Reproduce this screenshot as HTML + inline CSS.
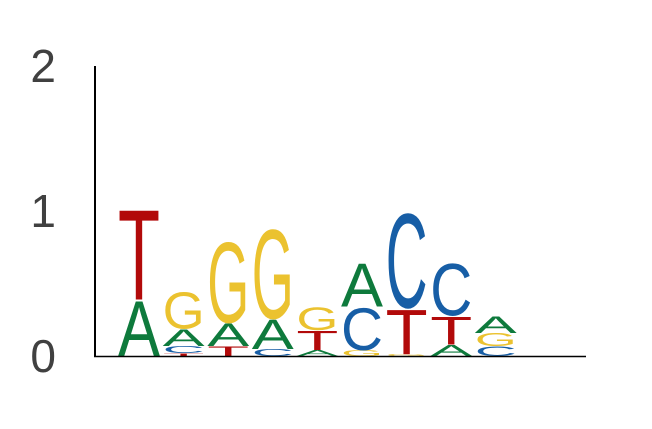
<!DOCTYPE html>
<html><head><meta charset="utf-8"><style>
html,body{margin:0;padding:0;background:#fff;}
svg{display:block;}
text{font-family:"Liberation Sans",sans-serif;}
</style></head><body>
<svg id="chart" width="652" height="429" viewBox="0 0 652 429">
<g id="marks"></g>
<line x1="95" y1="66" x2="95" y2="357" stroke="#000" stroke-width="2"/>
<line x1="94" y1="356.5" x2="586" y2="356.5" stroke="#000" stroke-width="1.5"/>
<g id="ticks"></g>
</svg>
<script>
// bottom-to-top letter stacks per position, heights in bits
const positions = [1,2,3,4,5,6,7,8,9];
const letters = [
  ["A","T"],
  ["T","C","A","G"],
  ["T","A","G"],
  ["C","A","G"],
  ["A","T","G"],
  ["G","C","A"],
  ["G","T","C"],
  ["A","T","C"],
  ["C","G","A"]
];
const heights = [
  [0.39,0.64],
  [0.02,0.05,0.12,0.26],
  [0.07,0.16,0.57],
  [0.05,0.21,0.63],
  [0.04,0.14,0.16],
  [0.04,0.30,0.31],
  [0.015,0.32,0.67],
  [0.08,0.20,0.37],
  [0.07,0.09,0.12]
];
const yTicks = [0,1,2];
const colors = {A:"#0e7a3c",C:"#175ea6",G:"#ebc22f",T:"#b20a0a"};
const NS="http://www.w3.org/2000/svg";
const y0=356, pxPerBit=145, x0=118, step=44.6, w=42;
const yScale=v=>y0-v*pxPerBit;
const xScale=i=>x0+i*step;
const marks=document.getElementById('marks');
positions.forEach((p,i)=>{
  let cum=0;
  letters[i].forEach((L,j)=>{
    const h=heights[i][j];
    const yb=yScale(cum);
    const ph=h*pxPerBit;
    cum+=h;
    const t=document.createElementNS(NS,'text');
    
    
    t.setAttribute('x',0);t.setAttribute('y',0);
    t.setAttribute('font-size',100);
    t.setAttribute('textLength',w);
    t.setAttribute('lengthAdjust','spacingAndGlyphs');
    t.setAttribute('fill',colors[L]);
    t.setAttribute('transform','translate('+xScale(i)+','+yb+') scale(1,'+(ph/72)+')');
    t.textContent=L;
    marks.appendChild(t);
  });
});
const tg=document.getElementById('ticks');
yTicks.forEach(v=>{
  const t=document.createElementNS(NS,'text');
  
  
  t.setAttribute('x',56);t.setAttribute('y',yScale(v)+16);
  t.setAttribute('text-anchor','end');
  t.setAttribute('font-size',46);
  t.setAttribute('fill','#404040');
  t.textContent=v;
  tg.appendChild(t);
});
</script>
</body></html>
